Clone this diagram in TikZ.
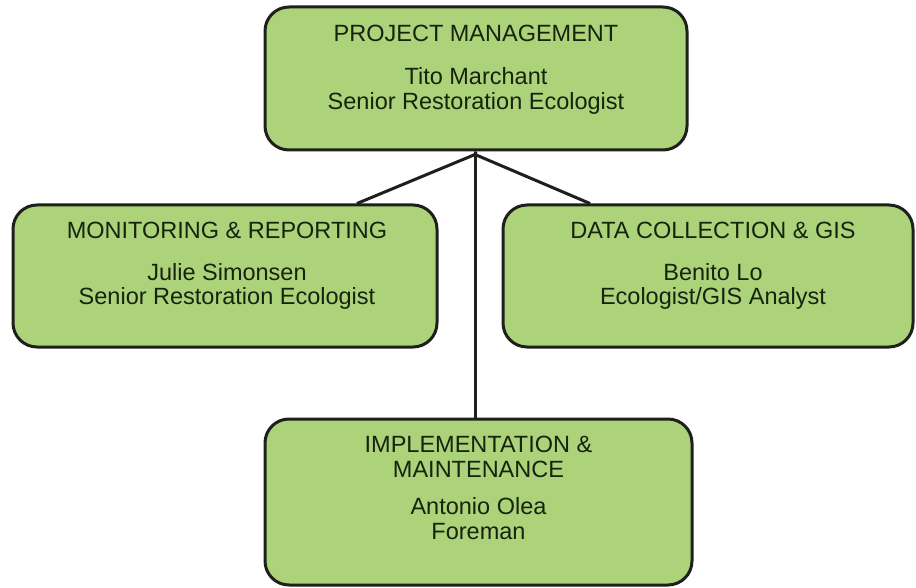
\documentclass[tikz,border=0pt]{standalone}
\usepackage{fontspec}
\setmainfont{Liberation Sans}
\usetikzlibrary{calc}
\definecolor{boxfill}{RGB}{172,210,122}
\definecolor{boxline}{RGB}{30,32,28}
\definecolor{txt}{RGB}{22,36,14}
\tikzset{
  box/.style={draw=boxline, line width=3pt, fill=boxfill, rounded corners=24pt, inner sep=0pt},
  lbl/.style={text=txt, align=center, inner sep=0pt, font=\fontsize{23.5}{24.5}\selectfont},
  link/.style={draw=boxline, line width=3pt}
}
\begin{document}
\begin{tikzpicture}[x=1pt,y=-1pt]
\useasboundingbox (0,0) rectangle (916,588);
\fill[white] (0,0) rectangle (916,588);
\node[box, minimum width=422pt, minimum height=143pt] (top) at (476,78.5) {};
\node[box, minimum width=424pt, minimum height=142pt] (left) at (225,276) {};
\node[box, minimum width=410pt, minimum height=142pt] (right) at (708,276) {};
\node[box, minimum width=427pt, minimum height=166pt] (bottom) at (478.5,502) {};
\coordinate (j) at ($(top.south)+(-1,3)$);
\coordinate (lend) at ($(left.north)+(132,0)$);
\coordinate (rend) at ($(right.north)+(-118,0)$);
\draw[link] (top.south) -- (j) -- (lend);
\draw[link] (j) -- (rend);
\draw[link] (j) -- (j |- bottom.north);
\node[lbl] (topT) at ($(top.center)+(0,-9)$) {PROJECT MANAGEMENT\\[19pt]Tito Marchant\\Senior Restoration Ecologist};
\node[lbl] (leftT) at ($(left.center)+(2,-10)$) {MONITORING \& REPORTING\\[17pt]Julie Simonsen\\Senior Restoration Ecologist};
\node[lbl] (rightT) at ($(right.center)+(5,-10)$) {DATA COLLECTION \& GIS\\[17pt]Benito Lo\\Ecologist/GIS Analyst};
\node[lbl] (bottomT) at ($(bottom.center)+(0,-14)$) {IMPLEMENTATION \&\\MAINTENANCE\\[13pt]Antonio Olea\\Foreman};
\end{tikzpicture}
\end{document}
